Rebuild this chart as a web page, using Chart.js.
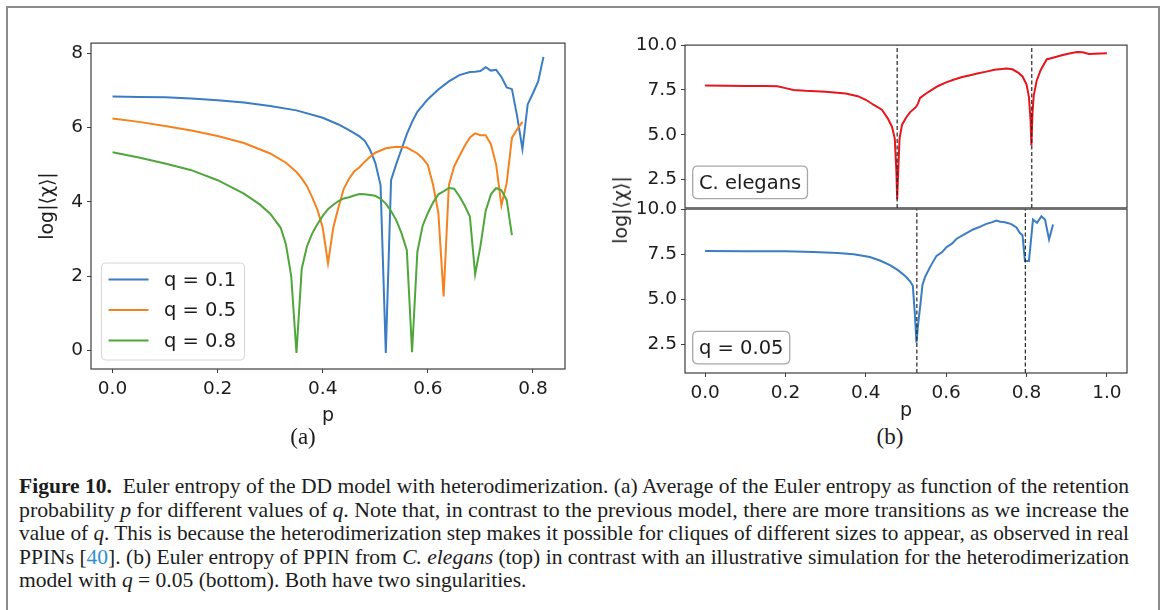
<!DOCTYPE html>
<html>
<head>
<meta charset="utf-8">
<script src="https://cdn.jsdelivr.net/npm/chart.js@4.4.0/dist/chart.umd.min.js"></script>
<style>
  body { margin: 0; width: 1165px; height: 610px; overflow: hidden; position: relative; background: #fff; font-family: 'DejaVu Sans', sans-serif; }
  .frame { position: absolute; left: 6px; top: 6px; width: 1150px; height: 700px; border: 2px solid #8c8c8c; }
  .box { position: absolute; }
  .lbl { position: absolute; transform: translate(-50%, -50%); white-space: nowrap; color: #1c1c1c; }
  .panel { font-family: 'Liberation Serif', serif; font-size: 23px; }
  .ylab { font-size: 19px; transform: translate(-50%, -50%) rotate(-90deg); }
  .caption { position: absolute; left: 19px; top: 475px; font-family: 'Liberation Serif', serif; font-size: 21.5px; line-height: 23.5px; color: #1c1c1c; }
  .cap-line { white-space: nowrap; height: 23.5px; }
  .cap-line span { display: inline-block; transform-origin: left center; }
  .ref { color: #2b8fd6; }
</style>
</head>
<body>
<div class="frame"></div>

<div class="box" style="left:37px; top:28px; width:538px; height:399px;"><canvas id="chartA" width="538" height="399"></canvas></div>
<div class="box" style="left:625px; top:30px; width:512px; height:193px;"><canvas id="chartTop" width="512" height="193"></canvas></div>
<div class="box" style="left:625px; top:194px; width:512px; height:228px;"><canvas id="chartBot" width="512" height="228"></canvas></div>

<div class="lbl ylab" style="left:620px; top:210px;">log|⟨χ⟩|</div>
<div class="lbl panel" style="left:303px; top:437px;">(a)</div>
<div class="lbl panel" style="left:890px; top:437px;">(b)</div>

<div class="caption">
  <div class="cap-line"><span><b>Figure 10.</b>&nbsp; Euler entropy of the DD model with heterodimerization. (a) Average of the Euler entropy as function of the retention</span></div>
  <div class="cap-line"><span>probability <i>p</i> for different values of <i>q</i>. Note that, in contrast to the previous model, there are more transitions as we increase the</span></div>
  <div class="cap-line"><span>value of <i>q</i>. This is because the heterodimerization step makes it possible for cliques of different sizes to appear, as observed in real</span></div>
  <div class="cap-line"><span>PPINs [<b class="ref" style="font-weight:normal">40</b>]. (b) Euler entropy of PPIN from <i>C. elegans</i> (top) in contrast with an illustrative simulation for the heterodimerization</span></div>
  <div class="cap-line"><span>model with <i>q</i> = 0.05 (bottom). Both have two singularities.</span></div>
</div>

<script>
// ---- panel (a): average Euler entropy vs p ----
const pBlue = [0, 0.05, 0.1, 0.15, 0.2, 0.25, 0.3, 0.35, 0.4, 0.43, 0.45, 0.47, 0.48, 0.49, 0.5, 0.51, 0.52, 0.53, 0.54, 0.55, 0.56, 0.57, 0.58, 0.6, 0.62, 0.64, 0.66, 0.68, 0.69, 0.7, 0.71, 0.72, 0.73, 0.74, 0.75, 0.76, 0.77, 0.78, 0.79, 0.8, 0.81, 0.82];
const chiBlue = [6.83, 6.82, 6.81, 6.78, 6.73, 6.67, 6.58, 6.46, 6.26, 6.08, 5.93, 5.76, 5.64, 5.4, 5.05, 4.45, -0.07, 4.58, 5.02, 5.42, 5.82, 6.15, 6.42, 6.76, 7.02, 7.24, 7.41, 7.49, 7.5, 7.52, 7.62, 7.53, 7.55, 7.36, 7.08, 7.03, 6.3, 5.42, 6.62, 6.92, 7.24, 7.9];

const pOrange = [0, 0.05, 0.1, 0.15, 0.2, 0.25, 0.3, 0.33, 0.35, 0.36, 0.37, 0.38, 0.39, 0.4, 0.41, 0.42, 0.43, 0.44, 0.45, 0.46, 0.47, 0.48, 0.49, 0.5, 0.52, 0.54, 0.56, 0.58, 0.59, 0.6, 0.61, 0.62, 0.63, 0.64, 0.65, 0.66, 0.67, 0.68, 0.69, 0.7, 0.71, 0.72, 0.73, 0.74, 0.75, 0.76, 0.77, 0.78];
const chiOrange = [6.24, 6.15, 6.04, 5.92, 5.77, 5.58, 5.3, 5.05, 4.8, 4.63, 4.42, 4.12, 3.78, 3.3, 2.35, 3.3, 3.85, 4.35, 4.62, 4.82, 4.93, 5.08, 5.21, 5.32, 5.44, 5.48, 5.46, 5.3, 5.17, 4.99, 4.45, 3.7, 1.45, 4.45, 4.95, 5.23, 5.5, 5.73, 5.84, 5.79, 5.79, 5.55, 5.0, 3.9, 4.5, 5.72, 5.95, 6.15];

const pGreen = [0, 0.05, 0.1, 0.15, 0.2, 0.25, 0.28, 0.3, 0.32, 0.33, 0.34, 0.35, 0.36, 0.37, 0.38, 0.39, 0.4, 0.41, 0.42, 0.43, 0.44, 0.45, 0.46, 0.47, 0.48, 0.49, 0.5, 0.51, 0.52, 0.53, 0.54, 0.55, 0.56, 0.57, 0.58, 0.59, 0.6, 0.61, 0.62, 0.63, 0.64, 0.65, 0.66, 0.67, 0.68, 0.69, 0.7, 0.71, 0.72, 0.73, 0.74, 0.75, 0.76];
const chiGreen = [5.33, 5.19, 5.03, 4.85, 4.58, 4.22, 3.93, 3.68, 3.3, 2.85, 2.0, -0.07, 2.2, 2.8, 3.15, 3.4, 3.62, 3.8, 3.92, 4.02, 4.09, 4.12, 4.17, 4.21, 4.2, 4.18, 4.16, 4.08, 3.95, 3.75, 3.5, 3.15, 2.7, -0.05, 2.65, 3.35, 3.7, 3.98, 4.2, 4.28, 4.37, 4.35, 4.15, 3.9, 3.6, 2.05, 2.8, 3.75, 4.2, 4.37, 4.31, 4.05, 3.1];

const labelsA = ['q = 0.1', 'q = 0.5', 'q = 0.8'];
const coloresA = ['#3a7dc2', '#f5821f', '#4fa63a'];
const xTicksA = [0, 0.2, 0.4, 0.6, 0.8];
const yTicksA = [0, 2, 4, 6, 8];
const xRangeA = [-0.041, 0.861];
const yRangeA = [-0.5, 8.27];

// ---- panel (b): C. elegans (top) and simulation q = 0.05 (bottom) ----
const pElegans = [0, 0.05, 0.1, 0.15, 0.18, 0.2, 0.22, 0.25, 0.3, 0.35, 0.38, 0.4, 0.42, 0.44, 0.455, 0.465, 0.472, 0.476, 0.478, 0.481, 0.484, 0.49, 0.5, 0.51, 0.525, 0.53, 0.535, 0.55, 0.56, 0.58, 0.6, 0.62, 0.64, 0.66, 0.68, 0.7, 0.72, 0.75, 0.765, 0.78, 0.79, 0.8, 0.806, 0.81, 0.812, 0.815, 0.818, 0.825, 0.835, 0.85, 0.87, 0.89, 0.91, 0.925, 0.94, 0.955, 0.97, 0.985, 1.0];
const chiElegans = [7.74, 7.73, 7.72, 7.72, 7.7, 7.6, 7.5, 7.45, 7.4, 7.3, 7.15, 6.95, 6.66, 6.4, 5.9, 5.45, 4.8, 3.0, 1.4, 3.2, 4.8, 5.55, 5.95, 6.25, 6.55, 6.75, 7.05, 7.3, 7.45, 7.72, 7.92, 8.08, 8.22, 8.32, 8.43, 8.52, 8.62, 8.7, 8.65, 8.45, 8.25, 7.8, 7.1, 5.8, 4.4, 6.3, 7.2, 8.0, 8.6, 9.2, 9.32, 9.45, 9.55, 9.62, 9.6, 9.5, 9.52, 9.53, 9.54];

const pSim = [0, 0.1, 0.2, 0.27, 0.33, 0.37, 0.41, 0.435, 0.46, 0.48, 0.5, 0.51, 0.517, 0.522, 0.526, 0.53, 0.536, 0.541, 0.547, 0.56, 0.576, 0.59, 0.6, 0.615, 0.626, 0.645, 0.667, 0.685, 0.7, 0.715, 0.725, 0.735, 0.746, 0.755, 0.763, 0.775, 0.783, 0.79, 0.796, 0.806, 0.816, 0.826, 0.837, 0.846, 0.856, 0.866];
const chiSim = [7.68, 7.67, 7.66, 7.63, 7.57, 7.5, 7.35, 7.15, 6.9, 6.62, 6.25, 6.0, 5.75, 4.2, 2.6, 3.6, 4.75, 5.8, 6.22, 6.8, 7.41, 7.62, 7.87, 8.1, 8.36, 8.6, 8.87, 9.03, 9.18, 9.28, 9.37, 9.3, 9.27, 9.22, 9.15, 8.98, 8.69, 8.55, 7.13, 7.13, 9.42, 9.24, 9.6, 9.42, 8.32, 9.15];

const cortesTop = [0.478, 0.813];
const cortesBot = [0.527, 0.797];
const notasB = ['C. elegans', 'q = 0.05'];
const xTicksB = [0, 0.2, 0.4, 0.6, 0.8, 1.0];
const yTicksB = [2.5, 5, 7.5, 10];
const xRangeB = [-0.05, 1.05];
const yRangeB = [0.92, 10.0];

Chart.defaults.font.family = "'DejaVu Sans', sans-serif";
Chart.defaults.color = '#1c1c1c';

// puntos {x,y} a partir de dos arreglos
function serie(xs, ys) {
    return xs.map((x, i) => ({ x: x, y: ys[i] }));
}

function rutaRedonda(c, x, y, w, h, r) {
    c.beginPath();
    c.moveTo(x + r, y);
    c.lineTo(x + w - r, y); c.quadraticCurveTo(x + w, y, x + w, y + r);
    c.lineTo(x + w, y + h - r); c.quadraticCurveTo(x + w, y + h, x + w - r, y + h);
    c.lineTo(x + r, y + h); c.quadraticCurveTo(x, y + h, x, y + h - r);
    c.lineTo(x, y + r); c.quadraticCurveTo(x, y, x + r, y);
    c.closePath();
}

// marco completo del area (spines de matplotlib)
const marco = {
    id: 'marco',
    afterDatasetsDraw(chart) {
        const a = chart.chartArea, c = chart.ctx;
        c.save();
        c.strokeStyle = '#3d3d3d';
        c.lineWidth = 1.2;
        c.strokeRect(a.left, a.top, a.right - a.left, a.bottom - a.top);
        c.restore();
    }
};

// leyenda dentro del area, abajo a la izquierda
const leyenda = {
    id: 'leyenda',
    afterDraw(chart) {
        const a = chart.chartArea, c = chart.ctx;
        const sets = chart.data.datasets;
        const w = 143, h = 97;
        const x0 = a.left + 10.5, y0 = a.bottom - 9 - h;
        c.save();
        rutaRedonda(c, x0, y0, w, h, 4);
        c.fillStyle = 'rgba(255,255,255,0.85)';
        c.fill();
        c.strokeStyle = '#d6d6d6';
        c.lineWidth = 1;
        c.stroke();
        c.font = "19.5px 'DejaVu Sans'";
        c.textBaseline = 'middle';
        sets.forEach((ds, i) => {
            const y = y0 + 16.5 + i * 30.5;
            c.strokeStyle = ds.borderColor;
            c.lineWidth = 2;
            c.beginPath(); c.moveTo(x0 + 7, y); c.lineTo(x0 + 47, y); c.stroke();
            c.fillStyle = '#1c1c1c';
            c.fillText(ds.label, x0 + 62.5, y + 1);
        });
        c.restore();
    }
};

// cuadro de texto abajo a la izquierda (panel b)
const nota = {
    id: 'nota',
    afterDraw(chart, args, opts) {
        if (!opts.text) return;
        const a = chart.chartArea, c = chart.ctx;
        c.save();
        c.font = "19.5px 'DejaVu Sans'";
        const w = c.measureText(opts.text).width + 12.5, h = 32.5;
        const x0 = a.left + 7.7, y0 = a.bottom - 9.2 - h;
        rutaRedonda(c, x0, y0, w, h, 5);
        c.fillStyle = 'rgba(255,255,255,0.85)';
        c.fill();
        c.strokeStyle = '#a8a8a8';
        c.lineWidth = 1.3;
        c.stroke();
        c.fillStyle = '#1c1c1c';
        c.textBaseline = 'middle';
        c.fillText(opts.text, x0 + 6.25, y0 + h / 2 + 1);
        c.restore();
    }
};

function ejeX(rango, ticks, alto, titulo, visible) {
    return {
        type: 'linear', min: rango[0], max: rango[1], display: visible,
        afterBuildTicks: s => { s.ticks = ticks.map(v => ({ value: v })); },
        afterFit: s => { s.height = alto; },
        grid: { drawOnChartArea: false, drawTicks: true, tickLength: 4, color: '#3d3d3d' },
        border: { display: false },
        ticks: { font: { size: 18.5 }, padding: 5, maxRotation: 0, callback: v => v.toFixed(1) },
        title: { display: !!titulo, text: titulo, font: { size: 19 }, padding: 0 }
    };
}

function ejeY(rango, ticks, ancho, decimales, titulo) {
    return {
        type: 'linear', min: rango[0], max: rango[1],
        afterBuildTicks: s => { s.ticks = ticks.map(v => ({ value: v })); },
        afterFit: s => { s.width = ancho; },
        grid: { drawOnChartArea: false, drawTicks: true, tickLength: 4, color: '#3d3d3d' },
        border: { display: false },
        ticks: { font: { size: 18.5 }, padding: 4, callback: v => v.toFixed(decimales) },
        title: { display: !!titulo, text: titulo, font: { size: 19 }, padding: 0 }
    };
}

function linea(label, data, color, orden) {
    return { label: label, data: data, borderColor: color, backgroundColor: color, borderWidth: 2, pointRadius: 0, tension: 0, order: orden };
}

function cortes(xs) {
    return xs.map(v => ({
        label: '', data: serie([v, v], yRangeB), borderColor: '#262626', borderWidth: 1.2,
        borderDash: [4, 2.5], pointRadius: 0, order: 0
    }));
}

const base = { responsive: false, animation: false, events: [] };

new Chart(document.getElementById('chartA'), {
    type: 'line',
    data: {
        datasets: [
            linea(labelsA[0], serie(pBlue, chiBlue), coloresA[0], 3),
            linea(labelsA[1], serie(pOrange, chiOrange), coloresA[1], 2),
            linea(labelsA[2], serie(pGreen, chiGreen), coloresA[2], 1)
        ]
    },
    options: {
        ...base,
        layout: { padding: { top: 15, right: 10, left: 0, bottom: 0 } },
        plugins: { legend: { display: false }, tooltip: { enabled: false } },
        scales: {
            x: ejeX(xRangeA, xTicksA, 58, 'p', true),
            y: ejeY(yRangeA, yTicksA, 54, 0, 'log|⟨χ⟩|')
        }
    },
    plugins: [marco, leyenda]
});

new Chart(document.getElementById('chartTop'), {
    type: 'line',
    data: { datasets: [linea('C. elegans', serie(pElegans, chiElegans), '#e8161c', 1), ...cortes(cortesTop)] },
    options: {
        ...base,
        layout: { padding: { top: 15, right: 10, left: 0, bottom: 14 } },
        plugins: { legend: { display: false }, tooltip: { enabled: false }, nota: { text: notasB[0] } },
        scales: {
            x: ejeX(xRangeB, xTicksB, 0, '', false),
            y: ejeY(yRangeB, yTicksB, 60, 1, '')
        }
    },
    plugins: [marco, nota]
});

new Chart(document.getElementById('chartBot'), {
    type: 'line',
    data: { datasets: [linea('q = 0.05', serie(pSim, chiSim), '#3a7dc2', 1), ...cortes(cortesBot)] },
    options: {
        ...base,
        layout: { padding: { top: 15, right: 10, left: 0, bottom: 0 } },
        plugins: { legend: { display: false }, tooltip: { enabled: false }, nota: { text: notasB[1] } },
        scales: {
            x: ejeX(xRangeB, xTicksB, 49, 'p', true),
            y: ejeY(yRangeB, yTicksB, 60, 1, '')
        }
    },
    plugins: [marco, nota]
});

// ajustar el ancho de cada linea del pie de figura (texto justificado)
const lineas = document.querySelectorAll('.cap-line > span');
const anchoObjetivo = 1110;
let escalas = [];
lineas.forEach((el, i) => {
    if (i < 4) {
        const s = anchoObjetivo / el.getBoundingClientRect().width;
        escalas.push(s);
        el.style.transform = `scaleX(${s})`;
    }
});
const media = escalas.reduce((a, b) => a + b, 0) / escalas.length;
lineas[4].style.transform = `scaleX(${media})`;
</script>
</body>
</html>
